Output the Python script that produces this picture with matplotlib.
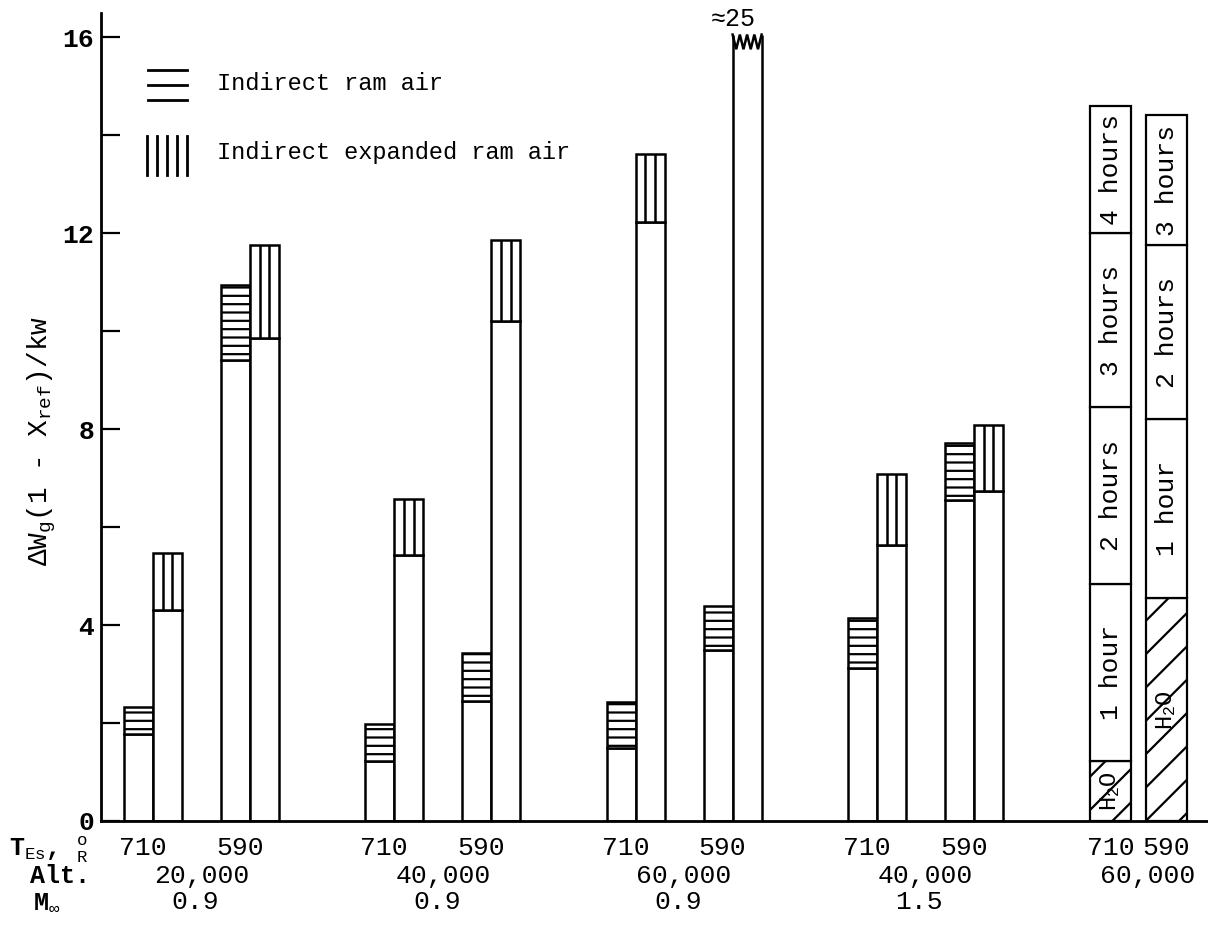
import numpy as np
import matplotlib
matplotlib.use('Agg')
import matplotlib.pyplot as plt
from matplotlib.lines import Line2D

plt.rcParams['font.family'] = ['Liberation Mono', 'DejaVu Sans']
plt.rcParams['mathtext.fontset'] = 'custom'
for k in ['rm', 'it', 'bf', 'sf', 'tt', 'cal']:
    plt.rcParams['mathtext.' + k] = 'Liberation Mono'
plt.rcParams['hatch.linewidth'] = 1.6

# ---------------- data ----------------
altitudes = ['20,000', '40,000', '60,000', '40,000']
mach = ['0.9', '0.9', '0.9', '1.5']
temps = ['710', '590']
# per group: [710, 590]
ram_base = [[1.78, 9.40], [1.22, 2.45], [1.50, 3.49], [3.12, 6.55]]
ram_top = [[2.33, 10.93], [1.97, 3.43], [2.43, 4.38], [4.14, 7.71]]
exp_base = [[4.30, 9.85], [5.42, 10.20], [12.23, None], [5.64, 6.73]]
exp_top = [[5.46, 11.75], [6.57, 11.85], [13.61, 25.0], [7.08, 8.09]]

stack_temps = ['710', '590']
stack_alt = '60,000'
stack_710_tops = [1.22, 4.84, 8.45, 12.0, 14.6]
stack_710_labels = ['H$_2$O', '1 hour', '2 hours', '3 hours', '4 hours']
stack_590_tops = [4.55, 8.2, 11.75, 14.4]
stack_590_labels = ['H$_2$O', '1 hour', '2 hours', '3 hours']

legend_labels = ['Indirect ram air', 'Indirect expanded ram air']
yticks_major = [0, 4, 8, 12, 16]
yticks_minor = [2, 6, 10, 14]

# ---------------- layout ----------------
FW, FH = 1208, 926
AX_L, AX_R, AX_B, AX_T = 101, 1208, 821, 13
YMAX = 16.49
W = 29.0
G0, GSTEP, PAIR = 23.0, 241.3, 97.0
SW = 41.0
SX = [989.0, 1045.0]
BREAK = 15.75
LW = 1.8

fig = plt.figure(figsize=(FW / 100, FH / 100), dpi=100)
ax = fig.add_axes([AX_L / FW, (FH - AX_B) / FH, (AX_R - AX_L) / FW, (AX_B - AX_T) / FH])
ax.set_xlim(0, AX_R - AX_L)
ax.set_ylim(0, YMAX)
for s in ['top', 'right']:
    ax.spines[s].set_visible(False)
for s in ['left', 'bottom']:
    ax.spines[s].set_linewidth(2.0)
ax.set_xticks([])
ax.set_yticks(yticks_major)
ax.set_yticks(yticks_minor, minor=True)
ax.set_yticklabels([str(v) for v in yticks_major], fontsize=19, fontweight='bold')
ax.tick_params(axis='y', which='both', direction='in', length=13.5, width=1.6, pad=5)

def fx(px):
    return px / FW

def fy(py):
    return 1 - py / FH

def ya(py):
    return (AX_B - py) / (AX_B - AX_T)

bar_kw = dict(width=W, align='edge', facecolor='white', edgecolor='black', linewidth=LW)

for g in range(len(altitudes)):
    for t in range(2):
        x0 = G0 + GSTEP * g + PAIR * t
        # indirect ram air bar
        ax.bar(x0, ram_base[g][t], **bar_kw)
        ax.bar(x0, ram_top[g][t] - ram_base[g][t], bottom=ram_base[g][t], hatch='--', **bar_kw)
        # indirect expanded ram air bar
        x1 = x0 + W
        top = exp_top[g][t]
        if top > YMAX:
            ax.bar(x1, BREAK, width=W, align='edge', facecolor='white', edgecolor='none')
            ax.vlines([x1, x1 + W], 0, BREAK + 0.3, color='black', linewidth=LW)
            zx = np.linspace(x1, x1 + W, 9)
            zy = np.where(np.arange(9) % 2 == 0, BREAK + 0.3, BREAK)
            ax.plot(zx, zy, color='black', linewidth=LW, solid_joinstyle='miter')
            ax.text(x1 + W / 2 - 14, ya(19), '≈%d' % round(top), ha='center', va='center',
                    fontsize=18, transform=ax.get_xaxis_transform(), clip_on=False)
        else:
            ax.bar(x1, exp_base[g][t], **bar_kw)
            ax.bar(x1, top - exp_base[g][t], bottom=exp_base[g][t], **bar_kw)
            ax.vlines([x1 + W / 3, x1 + 2 * W / 3], exp_base[g][t], top, color='black', linewidth=LW)
        # temperature label
        ax.text(x0 + W - 10, ya(848), temps[t], transform=ax.get_xaxis_transform(),
                ha='center', va='center', fontsize=19)
    xm = G0 + GSTEP * g + W + PAIR / 2
    ax.text(xm, ya(876), altitudes[g], transform=ax.get_xaxis_transform(),
            ha='center', va='center', fontsize=19)
    ax.text(xm - 6, ya(902), mach[g], transform=ax.get_xaxis_transform(),
            ha='center', va='center', fontsize=19)

# stacked time bars
for sx, tops, labs, tt in [(SX[0], stack_710_tops, stack_710_labels, stack_temps[0]),
                           (SX[1], stack_590_tops, stack_590_labels, stack_temps[1])]:
    bottoms = [0] + tops[:-1]
    for b, tp, lab in zip(bottoms, tops, labs):
        hatch = '/' if lab.startswith('H') else None
        ax.bar(sx, tp - b, bottom=b, width=SW, align='edge', facecolor='white',
               edgecolor='black', linewidth=1.6, hatch=hatch)
        ax.text(sx + SW / 2, (b + tp) / 2, lab, rotation=90, ha='center', va='center',
                fontsize=19 if not lab.startswith('H') else 17)
    ax.text(sx + SW / 2, ya(848), tt, transform=ax.get_xaxis_transform(),
            ha='center', va='center', fontsize=19)
ax.text(1047, ya(876), stack_alt, transform=ax.get_xaxis_transform(),
        ha='center', va='center', fontsize=19)

# row titles
fig.text(fx(88), fy(850), r'T$_{Es}$, ${}^{o}_{R}$', ha='right', va='center', fontsize=18,
         fontweight='bold')
fig.text(fx(30), fy(876), 'Alt.', ha='left', va='center', fontsize=18, fontweight='bold')
fig.text(fx(33), fy(902), r'M$_{\infty}$', ha='left', va='center', fontsize=18, fontweight='bold')

# y label
fig.text(fx(42), fy(441), r'$\Delta$W$_g$(1 - X$_{ref}$)/kw', rotation=90,
         ha='center', va='center', fontsize=20)

# legend (drawn by hand like the original)
for y in [70, 85, 100]:
    fig.add_artist(Line2D([fx(148), fx(187)], [fy(y), fy(y)], color='black', linewidth=2.0))
for x in [147, 157, 167, 177, 187]:
    fig.add_artist(Line2D([fx(x), fx(x)], [fy(136), fy(175)], color='black', linewidth=2.0))
fig.text(fx(217), fy(84), legend_labels[0], ha='left', va='center', fontsize=17)
fig.text(fx(217), fy(152), legend_labels[1], ha='left', va='center', fontsize=17)

fig.savefig('out.png', dpi=100, facecolor='white')
